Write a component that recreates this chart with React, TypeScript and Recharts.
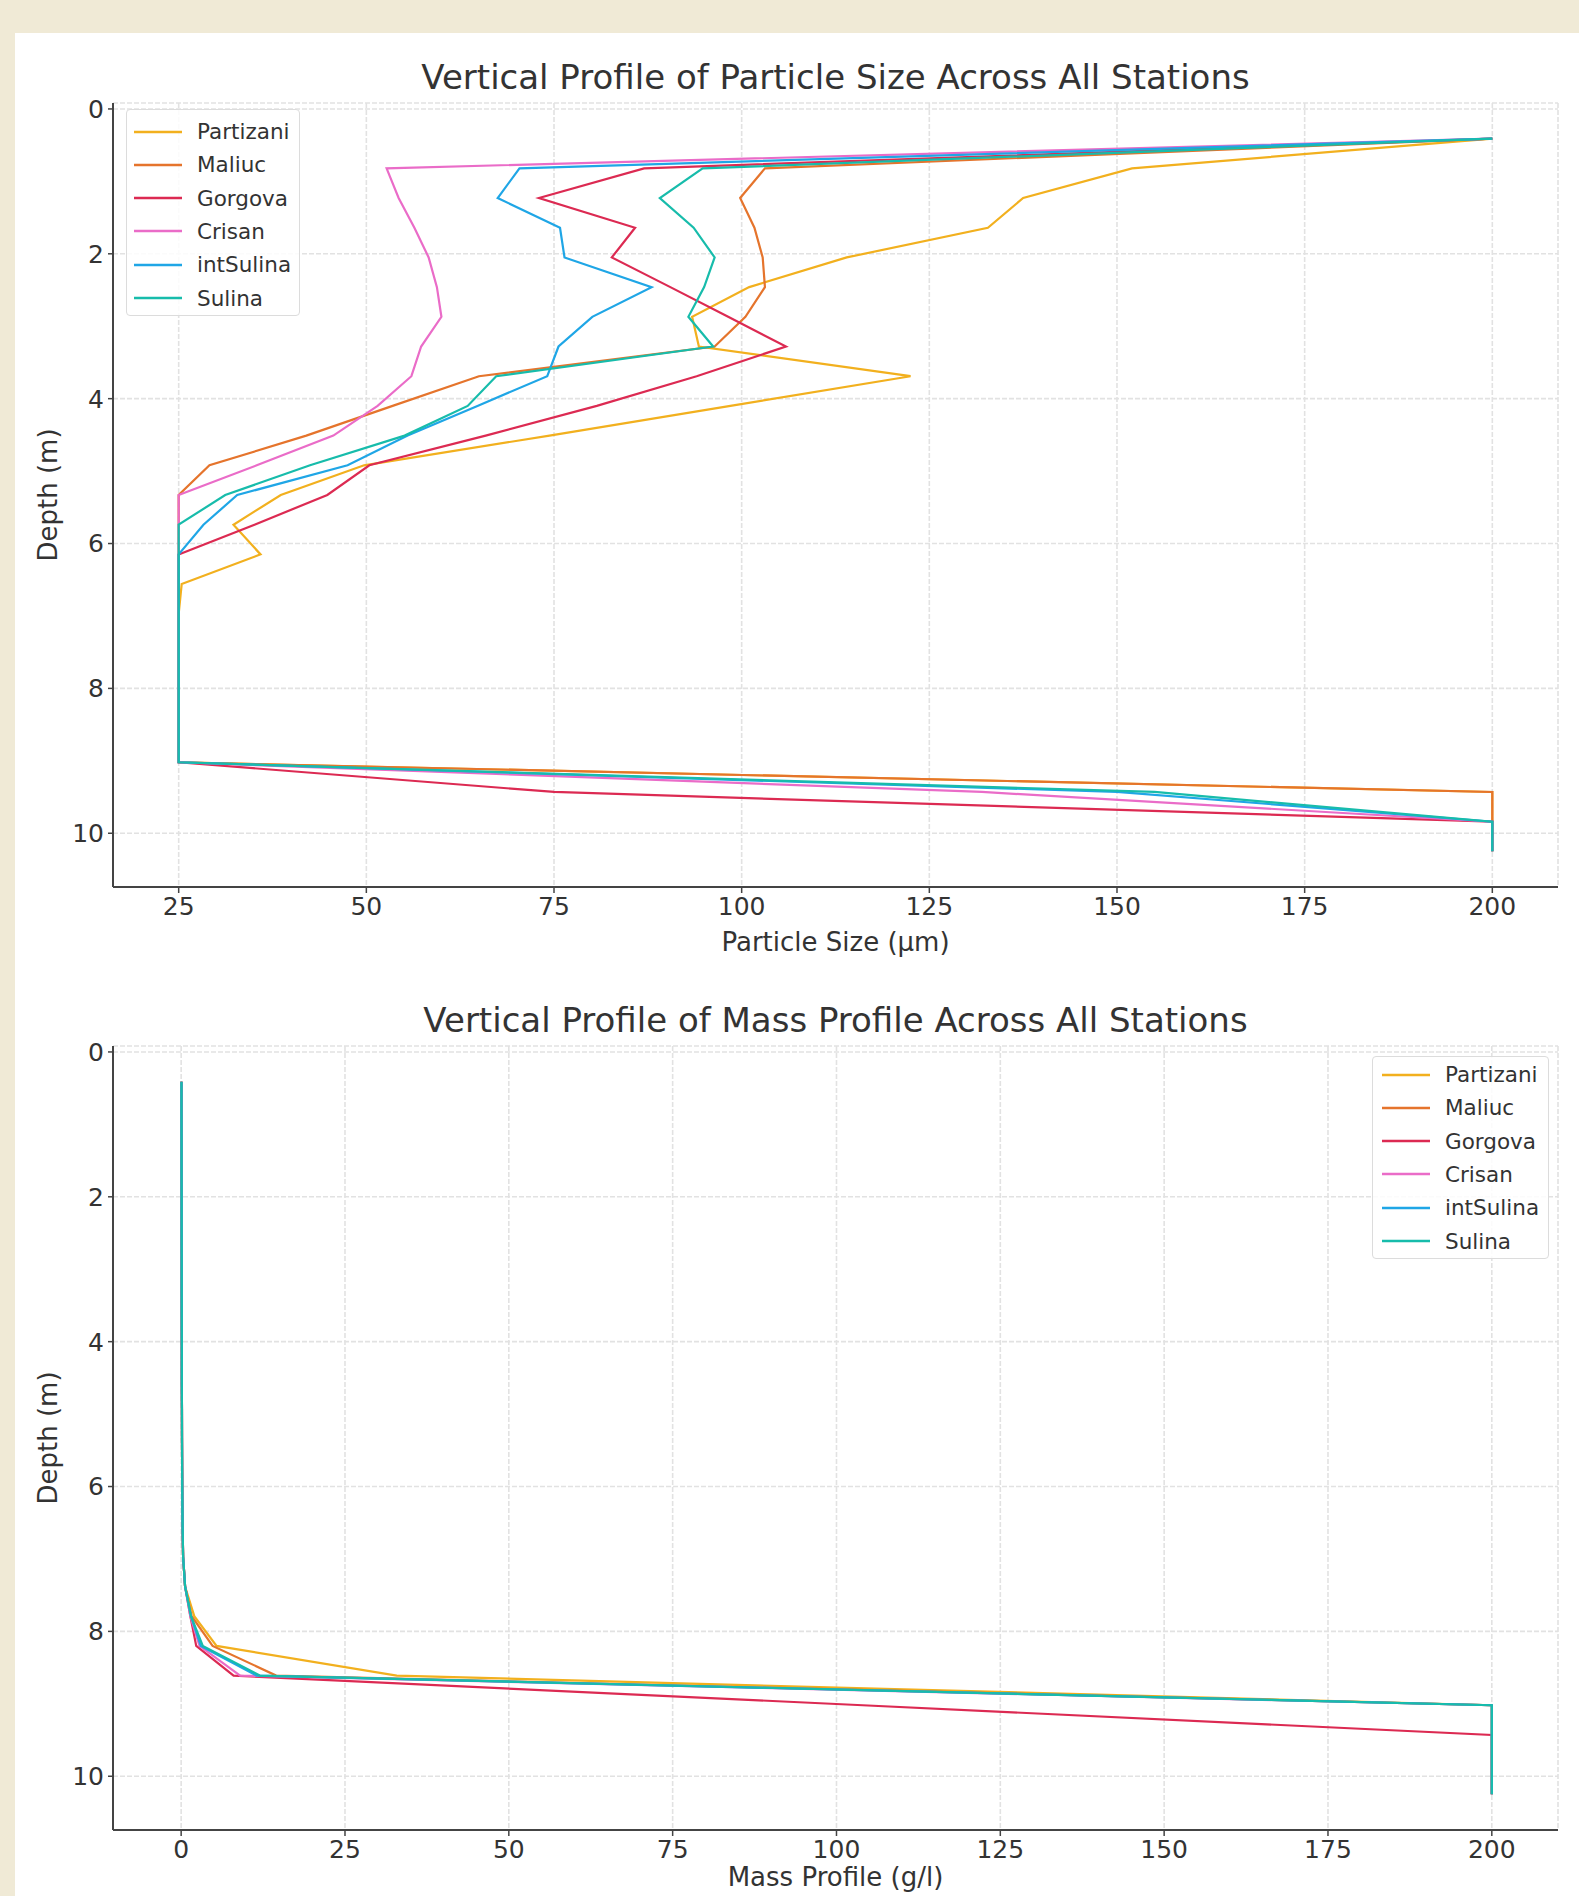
import React from 'react';
import { ScatterChart, Scatter, XAxis, YAxis, CartesianGrid } from 'recharts';

// ---------- data ----------
const DEPTHS = [0.41, 0.82, 1.23, 1.64, 2.05, 2.46, 2.87, 3.28, 3.69, 4.1, 4.51, 4.92, 5.33, 5.74, 6.15, 6.56, 6.97, 7.38, 7.79, 8.2, 8.61, 9.02, 9.43, 9.84, 10.25];

const STATIONS = ['Partizani', 'Maliuc', 'Gorgova', 'Crisan', 'intSulina', 'Sulina'];
const COLORS = ['#f2b01e', '#e5742c', '#dc2a52', '#ea6cc8', '#1fa6e6', '#17bcab'];

// Particle size (µm)
const SIZE_PARTIZANI = [200, 152, 137.5, 132.8, 114, 101, 93.4, 94.3, 122.5, 98.5, 74.4, 49.7, 38.6, 32.3, 35.9, 25.4, 25, 25, 25, 25, 25, 25, 200, 200, 200];
const SIZE_MALIUC = [200, 103.1, 99.8, 101.7, 102.8, 103.1, 100.5, 96.4, 65, 53.5, 42, 29.1, 25, 25, 25, 25, 25, 25, 25, 25, 25, 25, 200, 200, 200];
const SIZE_GORGOVA = [200, 87, 73, 85.8, 82.7, 90.5, 98.2, 105.9, 94, 80.7, 65.9, 50.4, 44.8, 35.1, 25, 25, 25, 25, 25, 25, 25, 25, 75, 200, 200];
const SIZE_CRISAN = [200, 52.7, 54.3, 56.4, 58.3, 59.4, 60, 57.3, 56, 51.5, 45.6, 35.4, 25, 25, 25, 25, 25, 25, 25, 25, 25, 25, 132, 200, 200];
const SIZE_INTSULINA = [200, 70.4, 67.5, 75.8, 76.4, 88, 80.1, 75.6, 74.1, 64.8, 55.5, 47.5, 32.8, 28.3, 25, 25, 25, 25, 25, 25, 25, 25, 150, 200, 200];
const SIZE_SULINA = [200, 94.8, 89.1, 93.6, 96.4, 95, 92.9, 96.2, 67.3, 63.5, 55.1, 42.5, 31.2, 25, 25, 25, 25, 25, 25, 25, 25, 25, 155, 200, 200];

// Mass profile (g/l)
const MASS_PARTIZANI = [0.05, 0.05, 0.06, 0.06, 0.07, 0.07, 0.08, 0.08, 0.09, 0.1, 0.1, 0.12, 0.13, 0.15, 0.18, 0.22, 0.3, 0.6, 2.0, 5.4, 32.9, 200, 200, 200, 200];
const MASS_MALIUC = [0.05, 0.05, 0.06, 0.06, 0.07, 0.07, 0.08, 0.08, 0.09, 0.1, 0.1, 0.12, 0.13, 0.15, 0.18, 0.22, 0.3, 0.6, 1.6, 4.8, 14.5, 200, 200, 200, 200];
const MASS_GORGOVA = [0.05, 0.05, 0.06, 0.06, 0.07, 0.07, 0.08, 0.08, 0.09, 0.1, 0.1, 0.12, 0.13, 0.15, 0.18, 0.22, 0.3, 0.6, 1.4, 2.3, 8.0, 104, 200, 200, 200];
const MASS_CRISAN = [0.05, 0.05, 0.06, 0.06, 0.07, 0.07, 0.08, 0.08, 0.09, 0.1, 0.1, 0.12, 0.13, 0.15, 0.18, 0.22, 0.3, 0.6, 1.4, 2.8, 9.0, 200, 200, 200, 200];
const MASS_INTSULINA = [0.05, 0.05, 0.06, 0.06, 0.07, 0.07, 0.08, 0.08, 0.09, 0.1, 0.1, 0.12, 0.13, 0.15, 0.18, 0.22, 0.3, 0.6, 1.5, 3.0, 11.5, 200, 200, 200, 200];
const MASS_SULINA = [0.05, 0.05, 0.06, 0.06, 0.07, 0.07, 0.08, 0.08, 0.09, 0.1, 0.1, 0.12, 0.13, 0.15, 0.18, 0.22, 0.3, 0.6, 1.5, 3.3, 12.0, 200, 200, 200, 200];

const SIZE_TICKS = [25, 50, 75, 100, 125, 150, 175, 200];
const MASS_TICKS = [0, 25, 50, 75, 100, 125, 150, 175, 200];
const DEPTH_TICKS = [0, 2, 4, 6, 8, 10];

const SIZE_SERIES = [SIZE_PARTIZANI, SIZE_MALIUC, SIZE_GORGOVA, SIZE_CRISAN, SIZE_INTSULINA, SIZE_SULINA];
const MASS_SERIES = [MASS_PARTIZANI, MASS_MALIUC, MASS_GORGOVA, MASS_CRISAN, MASS_INTSULINA, MASS_SULINA];

// ---------- styles ----------
const FONT = "'DejaVu Sans', 'Noto Sans', sans-serif";
const TEXT = '#333333';
const SPINE = '#444444';

const buildSeries = (series: number[][]) =>
  STATIONS.map((name, i) => ({
    name,
    color: COLORS[i],
    data: DEPTHS.map((d, j) => ({ x: series[i][j], depth: d })),
  }));

const EmptyShape = () => <g />;

type PanelProps = {
  top: number;
  height: number;
  marginTop: number;
  marginBottom: number;
  series: number[][];
  xDomain: [number, number];
  xTicks: number[];
};

function Panel({ top, height, marginTop, marginBottom, series, xDomain, xTicks }: PanelProps) {
  const data = buildSeries(series);
  return (
    <div style={{ position: 'absolute', left: 0, top, width: 1579, height }}>
      <ScatterChart
        width={1579}
        height={height}
        margin={{ top: marginTop, right: 21, bottom: marginBottom, left: 33 }}
      >
        <CartesianGrid stroke="#e2e2e2" strokeWidth={1.6} strokeDasharray="5 2" />
        <XAxis
          type="number"
          dataKey="x"
          domain={xDomain}
          ticks={xTicks}
          allowDataOverflow
          height={30}
          axisLine={{ stroke: SPINE, strokeWidth: 2 }}
          tickLine={{ stroke: SPINE, strokeWidth: 1.5 }}
          tickSize={6}
          tickMargin={4}
          tick={{ fontSize: 25, fill: TEXT, fontFamily: FONT }}
        />
        <YAxis
          type="number"
          dataKey="depth"
          reversed
          domain={[-0.082, 10.742]}
          ticks={DEPTH_TICKS}
          allowDataOverflow
          width={80}
          axisLine={{ stroke: SPINE, strokeWidth: 2 }}
          tickLine={{ stroke: SPINE, strokeWidth: 1.5 }}
          tickSize={5}
          tickMargin={4}
          tick={{ fontSize: 25, fill: TEXT, fontFamily: FONT }}
        />
        {data.map((s) => (
          <Scatter
            key={s.name}
            name={s.name}
            data={s.data}
            fill={s.color}
            line={{ stroke: s.color, strokeWidth: 2.2 }}
            lineJointType="linear"
            shape={EmptyShape}
            isAnimationActive={false}
          />
        ))}
      </ScatterChart>
    </div>
  );
}

function LegendBox({ left, top, width, height, rowTop, lineLeft }: { left: number; top: number; width: number; height: number; rowTop: number; lineLeft: number }) {
  return (
    <div
      style={{
        position: 'absolute',
        left,
        top,
        width,
        height,
        boxSizing: 'border-box',
        border: '1.5px solid #dcdcdc',
        borderRadius: 4,
        background: 'rgba(255,255,255,0.85)',
      }}
    >
      {STATIONS.map((s, i) => (
        <div
          key={s}
          style={{
            position: 'absolute',
            left: lineLeft,
            top: rowTop + i * 33.3,
            height: 33,
            display: 'flex',
            alignItems: 'center',
            whiteSpace: 'nowrap',
          }}
        >
          <svg width={48} height={6} style={{ display: 'block' }}>
            <line x1={0} y1={3} x2={48} y2={3} stroke={COLORS[i]} strokeWidth={2.5} />
          </svg>
          <span style={{ marginLeft: 15, fontSize: 21.5, color: TEXT, fontFamily: FONT, lineHeight: '33px' }}>{s}</span>
        </div>
      ))}
    </div>
  );
}

function TextBlock({ text, top, size, left = 113, width = 1445 }: { text: string; top: number; size: number; left?: number; width?: number }) {
  return (
    <div
      style={{
        position: 'absolute',
        left,
        top,
        width,
        textAlign: 'center',
        fontSize: size,
        lineHeight: `${size}px`,
        color: TEXT,
        fontFamily: FONT,
        whiteSpace: 'nowrap',
      }}
    >
      {text}
    </div>
  );
}

function YLabel({ text, centerY }: { text: string; centerY: number }) {
  return (
    <div
      style={{
        position: 'absolute',
        left: 48 - 150,
        top: centerY - 13,
        width: 300,
        textAlign: 'center',
        fontSize: 26,
        lineHeight: '26px',
        color: TEXT,
        fontFamily: FONT,
        transform: 'rotate(-90deg)',
        transformOrigin: '50% 50%',
        whiteSpace: 'nowrap',
      }}
    >
      {text}
    </div>
  );
}

export default function App() {
  return (
    <div
      style={{
        position: 'absolute',
        left: 0,
        top: 0,
        width: 1579,
        height: 1896,
        overflow: 'hidden',
        background: '#f0ead6',
        fontFamily: FONT,
      }}
    >
      <div style={{ position: 'absolute', left: 15, top: 33, right: 0, bottom: 0, background: '#ffffff' }} />

      <Panel
        top={0}
        height={960}
        marginTop={103}
        marginBottom={43}
        series={SIZE_SERIES}
        xDomain={[16.25, 208.75]}
        xTicks={SIZE_TICKS}
      />
      <TextBlock text="Vertical Profile of Particle Size Across All Stations" top={60} size={34} />
      <TextBlock text="Particle Size (µm)" top={929} size={26} />
      <YLabel text="Depth (m)" centerY={495} />
      <LegendBox left={126} top={109} width={174} height={207} rowTop={5} lineLeft={7} />

      <Panel
        top={960}
        height={936}
        marginTop={86}
        marginBottom={36}
        series={MASS_SERIES}
        xDomain={[-10.4, 210.1]}
        xTicks={MASS_TICKS}
      />
      <TextBlock text="Vertical Profile of Mass Profile Across All Stations" top={1003} size={34} />
      <TextBlock text="Mass Profile (g/l)" top={1864} size={26} />
      <YLabel text="Depth (m)" centerY={1438} />
      <LegendBox left={1372} top={1056} width={177} height={203} rowTop={1} lineLeft={9} />
    </div>
  );
}
